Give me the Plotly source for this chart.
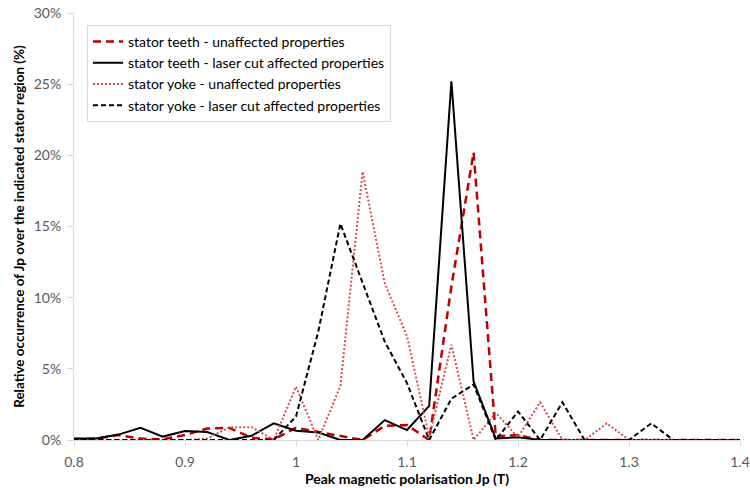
import plotly.graph_objects as go

jp = [0.80, 0.82, 0.84, 0.86, 0.88, 0.90, 0.92, 0.94, 0.96, 0.98,
      1.00, 1.02, 1.04, 1.06, 1.08, 1.10, 1.12, 1.14, 1.16, 1.18,
      1.20, 1.22, 1.24, 1.26, 1.28, 1.30, 1.32, 1.34, 1.36, 1.38, 1.40]

teeth_unaffected = [0.05, 0.1, 0.35, 0.1, 0.05, 0.35, 0.8, 0.85, 0.15, 0.05,
                    0.85, 0.55, 0.3, 0.0, 1.0, 1.05, 0.0, 10.8, 20.2, 0.25,
                    0.35, 0.0, 0.0, 0.0, 0.0, 0.0, 0.0, 0.0, 0.0, 0.0, 0.0]

teeth_laser = [0.1, 0.1, 0.38, 0.85, 0.24, 0.63, 0.56, 0.0, 0.3, 1.17,
               0.65, 0.52, 0.0, 0.0, 1.4, 0.7, 2.4, 25.2, 4.1, 0.1,
               0.2, 0.0, 0.0, 0.0, 0.0, 0.0, 0.0, 0.0, 0.0, 0.0, 0.0]

yoke_unaffected = [0.0, 0.0, 0.0, 0.0, 0.0, 0.0, 0.1, 0.9, 0.9, 0.0,
                   3.75, 0.0, 3.8, 18.85, 11.0, 7.3, 0.2, 6.7, 0.0, 1.9,
                   0.2, 2.65, 0.0, 0.0, 1.17, 0.0, 0.0, 0.0, 0.0, 0.0, 0.0]

yoke_laser = [0.0, 0.0, 0.0, 0.0, 0.0, 0.0, 0.0, 0.0, 0.0, 0.0,
              1.65, 7.6, 15.2, 11.1, 6.9, 4.0, 0.0, 2.9, 3.9, 0.0,
              2.0, 0.0, 2.65, 0.0, 0.0, 0.0, 1.17, 0.0, 0.0, 0.0, 0.0]

names = ["stator teeth - unaffected properties",
         "stator teeth - laser cut affected properties",
         "stator yoke - unaffected properties",
         "stator yoke - laser cut affected properties"]

x_ticks = [0.8, 0.9, 1.0, 1.1, 1.2, 1.3, 1.4]
x_tick_text = ["0.8", "0.9", "1", "1.1", "1.2", "1.3", "1.4"]
y_ticks = [0, 5, 10, 15, 20, 25, 30]
y_tick_text = ["0%", "5%", "10%", "15%", "20%", "25%", "30%"]

FONT = "Lato, 'Open Sans', sans-serif"

fig = go.Figure()
fig.add_trace(go.Scatter(x=jp, y=teeth_unaffected, mode="lines", name=names[0],
                         line=dict(color="#c00000", width=2.5, dash="8px,5px")))
fig.add_trace(go.Scatter(x=jp, y=teeth_laser, mode="lines", name=names[1],
                         line=dict(color="#000000", width=2)))
fig.add_trace(go.Scatter(x=jp, y=yoke_unaffected, mode="lines", name=names[2],
                         line=dict(color="#d45050", width=2, dash="2px,2px")))
fig.add_trace(go.Scatter(x=jp, y=yoke_laser, mode="lines", name=names[3],
                         line=dict(color="#000000", width=2, dash="5px,3px")))

fig.update_layout(
    width=750, height=488,
    margin=dict(l=74, r=10, t=13, b=48),
    paper_bgcolor="white", plot_bgcolor="white",
    font=dict(family=FONT, size=14, color="#595959"),
    showlegend=True,
    legend=dict(x=0.0195, y=0.972, xanchor="left", yanchor="top",
                bgcolor="white", bordercolor="#d9d9d9", borderwidth=1,
                font=dict(family=FONT, size=14, color="#000000"),
                tracegroupgap=0),
    xaxis=dict(range=[0.8, 1.4], tickmode="array", tickvals=x_ticks, ticktext=x_tick_text,
               automargin=False,
               showgrid=False, zeroline=False, showline=True,
               linecolor="#d9d9d9", linewidth=1,
               ticks="outside", ticklen=5, tickcolor="#d9d9d9",
               ticklabelstandoff=4,
               tickfont=dict(size=14, color="#595959"),
               title=dict(text="<b>Peak magnetic polarisation Jp (T)</b>",
                          font=dict(size=14, color="#000000"), standoff=0)),
    yaxis=dict(range=[0, 30], tickmode="array", tickvals=y_ticks, ticktext=y_tick_text,
               automargin=False,
               showgrid=False, zeroline=False, showline=True,
               linecolor="#d9d9d9", linewidth=1,
               ticks="outside", ticklen=5, tickcolor="#d9d9d9",
               ticklabelstandoff=4,
               tickfont=dict(size=14, color="#595959"),
               title=dict(text="<b>Relative occurrence of Jp over the indicated stator region (%)</b>",
                          font=dict(size=13.5, color="#000000"), standoff=6)),
)

fig.write_html("out.html")
